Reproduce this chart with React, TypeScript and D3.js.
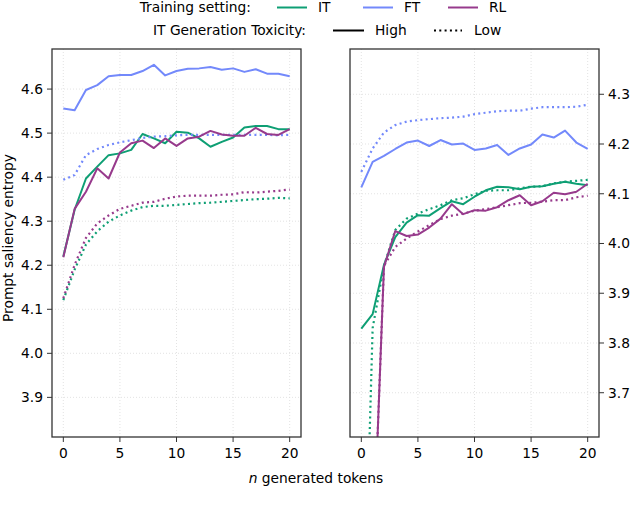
import React from 'react';
import * as d3 from 'd3';

// token positions on the x axis
const tokens = [0, 1, 2, 3, 4, 5, 6, 7, 8, 9, 10, 11, 12, 13, 14, 15, 16, 17, 18, 19, 20];
const xTicks = [0, 5, 10, 15, 20];

// left panel
const leftITHigh = [4.220, 4.326, 4.397, 4.424, 4.450, 4.454, 4.462, 4.498, 4.488, 4.477, 4.503, 4.501, 4.488, 4.469, 4.480, 4.490, 4.513, 4.516, 4.516, 4.509, 4.509];
const leftFTHigh = [4.556, 4.552, 4.598, 4.609, 4.629, 4.632, 4.632, 4.641, 4.655, 4.631, 4.641, 4.646, 4.647, 4.650, 4.644, 4.647, 4.639, 4.645, 4.635, 4.635, 4.629];
const leftRLHigh = [4.218, 4.328, 4.367, 4.420, 4.397, 4.456, 4.477, 4.483, 4.466, 4.488, 4.471, 4.488, 4.492, 4.505, 4.497, 4.494, 4.494, 4.512, 4.498, 4.496, 4.509];
const leftITLow = [4.121, 4.190, 4.247, 4.277, 4.299, 4.313, 4.324, 4.332, 4.335, 4.335, 4.337, 4.339, 4.341, 4.342, 4.344, 4.346, 4.348, 4.350, 4.351, 4.353, 4.352];
const leftFTLow = [4.394, 4.405, 4.450, 4.464, 4.473, 4.479, 4.484, 4.489, 4.492, 4.493, 4.495, 4.496, 4.496, 4.496, 4.496, 4.496, 4.496, 4.496, 4.496, 4.495, 4.496];
const leftRLLow = [4.125, 4.201, 4.262, 4.295, 4.313, 4.328, 4.335, 4.342, 4.344, 4.351, 4.356, 4.358, 4.358, 4.358, 4.360, 4.361, 4.366, 4.365, 4.367, 4.369, 4.372];
const leftYTicks = [3.9, 4.0, 4.1, 4.2, 4.3, 4.4, 4.5, 4.6];

// right panel
const rightITHigh = [3.829, 3.858, 3.957, 4.013, 4.042, 4.057, 4.056, 4.071, 4.085, 4.079, 4.094, 4.107, 4.114, 4.113, 4.109, 4.114, 4.115, 4.120, 4.124, 4.120, 4.117];
const rightFTHigh = [4.113, 4.164, 4.176, 4.190, 4.203, 4.207, 4.196, 4.208, 4.199, 4.201, 4.188, 4.191, 4.198, 4.178, 4.191, 4.199, 4.219, 4.213, 4.227, 4.203, 4.190];
const rightRLHigh = [3.0, 3.35, 3.953, 4.025, 4.015, 4.018, 4.032, 4.050, 4.079, 4.059, 4.067, 4.066, 4.073, 4.087, 4.097, 4.077, 4.085, 4.102, 4.099, 4.104, 4.120];
const rightITLow = [3.02, 3.83, 3.955, 4.027, 4.050, 4.060, 4.069, 4.077, 4.087, 4.091, 4.099, 4.106, 4.107, 4.107, 4.111, 4.114, 4.115, 4.121, 4.124, 4.126, 4.128];
const rightFTLow = [4.144, 4.191, 4.223, 4.238, 4.245, 4.248, 4.250, 4.252, 4.253, 4.255, 4.260, 4.263, 4.266, 4.267, 4.267, 4.271, 4.274, 4.274, 4.274, 4.275, 4.279];
const rightRLLow = [3.0, 3.35, 3.955, 3.993, 4.010, 4.024, 4.037, 4.049, 4.056, 4.060, 4.066, 4.069, 4.073, 4.077, 4.081, 4.082, 4.084, 4.087, 4.087, 4.093, 4.096];
const rightYTicks = [3.7, 3.8, 3.9, 4.0, 4.1, 4.2, 4.3];

const settings = ['IT', 'FT', 'RL'];
const colors: Record<string, string> = { IT: '#0e9f74', FT: '#7389fb', RL: '#973a8c' };

const FONT = 'DejaVu Sans, sans-serif';
const FS = 13.8;
const DOT = '2,3.3';

interface PanelProps {
  x0: number;
  yDomain: [number, number];
  yTicks: number[];
  high: Record<string, number[]>;
  low: Record<string, number[]>;
  axisRight?: boolean;
  id: string;
}

const W = 249;
const TOP = 49;
const BOTTOM = 437;

const Panel: React.FC<PanelProps> = ({ x0, yDomain, yTicks, high, low, axisRight, id }) => {
  const x = d3.scaleLinear().domain([-1, 21]).range([x0, x0 + W]);
  const y = d3.scaleLinear().domain(yDomain).range([BOTTOM, TOP]);
  const line = d3.line<number>().x((_, i) => x(tokens[i])).y(d => y(d));
  const axisX = axisRight ? x0 + W : x0;
  const dir = axisRight ? 1 : -1;

  return (
    <g>
      <defs>
        <clipPath id={id}>
          <rect x={x0} y={TOP} width={W} height={BOTTOM - TOP} />
        </clipPath>
      </defs>
      {/* grid */}
      {xTicks.map(t => (
        <line key={'gx' + t} x1={x(t)} x2={x(t)} y1={TOP} y2={BOTTOM}
          stroke="#dcdcdc" strokeWidth={0.8} strokeDasharray="1,2" />
      ))}
      {yTicks.map(t => (
        <line key={'gy' + t} x1={x0} x2={x0 + W} y1={y(t)} y2={y(t)}
          stroke="#dcdcdc" strokeWidth={0.8} strokeDasharray="1,2" />
      ))}
      <g clipPath={`url(#${id})`}>
        {settings.map(s => (
          <g key={s}>
            <path d={line(high[s]) || ''} fill="none" stroke={colors[s]} strokeWidth={2} strokeLinejoin="round" />
            <path d={line(low[s]) || ''} fill="none" stroke={colors[s]} strokeWidth={2.2} strokeDasharray={DOT} />
          </g>
        ))}
      </g>
      {/* spines */}
      <rect x={x0} y={TOP} width={W} height={BOTTOM - TOP} fill="none" stroke="#333" strokeWidth={1.3} />
      {/* x axis */}
      {xTicks.map(t => (
        <g key={'xt' + t}>
          <line x1={x(t)} x2={x(t)} y1={BOTTOM} y2={BOTTOM + 5} stroke="#333" strokeWidth={1} />
          <text x={x(t)} y={BOTTOM + 21} textAnchor="middle" fontFamily={FONT} fontSize={FS} fill="#000">{t}</text>
        </g>
      ))}
      {/* y axis */}
      {yTicks.map(t => (
        <g key={'yt' + t}>
          <line x1={axisX} x2={axisX + dir * 5} y1={y(t)} y2={y(t)} stroke="#333" strokeWidth={1} />
          <text x={axisX + dir * 9} y={y(t)} dy="0.36em" textAnchor={axisRight ? 'start' : 'end'}
            fontFamily={FONT} fontSize={FS} fill="#000">{t.toFixed(1)}</text>
        </g>
      ))}
    </g>
  );
};

const App: React.FC = () => {
  return (
    <svg width={630} height={518} style={{ position: 'absolute', left: 0, top: 0, background: '#fff' }}>
      {/* legend row 1 */}
      <text x={251} y={12} textAnchor="end" fontFamily={FONT} fontSize={FS}>Training setting:</text>
      {settings.map((s, i) => {
        const lx = [277, 363, 448][i];
        return (
          <g key={'lg' + s}>
            <line x1={lx} x2={lx + 30} y1={7.5} y2={7.5} stroke={colors[s]} strokeWidth={2} />
            <text x={lx + 41} y={12} fontFamily={FONT} fontSize={FS}>{s}</text>
          </g>
        );
      })}
      {/* legend row 2 */}
      <text x={306} y={35} textAnchor="end" fontFamily={FONT} fontSize={FS}>IT Generation Toxicity:</text>
      <line x1={333} x2={364} y1={30.5} y2={30.5} stroke="#000" strokeWidth={2} />
      <text x={375} y={35} fontFamily={FONT} fontSize={FS}>High</text>
      <line x1={434} x2={462} y1={30.5} y2={30.5} stroke="#000" strokeWidth={2.2} strokeDasharray={DOT} />
      <text x={474} y={35} fontFamily={FONT} fontSize={FS}>Low</text>

      <Panel id="clipL" x0={52} yDomain={[3.81, 4.691]} yTicks={leftYTicks}
        high={{ IT: leftITHigh, FT: leftFTHigh, RL: leftRLHigh }}
        low={{ IT: leftITLow, FT: leftFTLow, RL: leftRLLow }} />
      <Panel id="clipR" x0={350} yDomain={[3.611, 4.391]} yTicks={rightYTicks} axisRight
        high={{ IT: rightITHigh, FT: rightFTHigh, RL: rightRLHigh }}
        low={{ IT: rightITLow, FT: rightFTLow, RL: rightRLLow }} />

      <text transform="translate(13,238) rotate(-90)" textAnchor="middle" fontFamily={FONT} fontSize={FS}>Prompt saliency entropy</text>
      <text x={316} y={483} textAnchor="middle" fontFamily={FONT} fontSize={FS}>
        <tspan fontStyle="italic">n</tspan> generated tokens
      </text>
    </svg>
  );
};

export default App;
